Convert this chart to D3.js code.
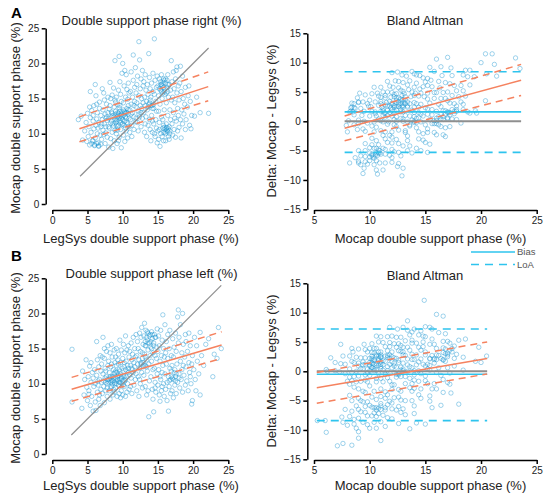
<!DOCTYPE html>
<html lang="en">
<head>
<meta charset="UTF-8">
<title>Double support phase: LegSys vs Mocap</title>
<style>
  body { margin: 0; background: #fff; font-family: "Liberation Sans", Arial, sans-serif; }
  .axis path, .axis line { stroke: #000; stroke-width: 1.5; }
  .axis text { font-size: 10px; fill: #222; font-family: "Liberation Sans", Arial, sans-serif; }
  .title, .label { font-size: 13px; fill: #222; }
  .panel-tag { font-size: 15px; font-weight: bold; fill: #000; }
  .dot { fill: none; stroke: #1592d0; stroke-opacity: 0.45; stroke-width: 0.9; }
  .legend text { font-size: 9.5px; fill: #555; }
</style>
<script src="https://d3js.org/d3.v7.min.js"></script>
</head>
<body>
<svg id="chart" width="550" height="501"></svg>
<script>
// [legsys, mocap] pairs, right foot (panel A)
const rightPairs = [
  [3.7,12.0],[4.1,12.5],[4.3,9.1],[4.6,10.4],[4.8,11.6],[4.9,8.9],[5.0,12.9],[5.4,16.0],
  [5.1,9.6],[5.2,11.0],[5.3,8.4],[5.4,12.3],[5.5,10.2],[5.6,13.3],[5.7,9.0],[5.8,11.8],[5.9,14.0],[5.6,8.6],[5.9,10.7],[5.3,13.8],[5.8,12.6],
  [6.0,8.3],[6.1,17.0],[6.1,9.4],[6.2,11.2],[6.3,12.1],[6.4,10.0],[6.4,13.0],[6.5,8.7],[6.6,11.6],[6.7,14.5],[8.9,20.4],[6.8,9.8],[6.9,12.6],[6.2,15.4],[6.5,10.8],[6.7,13.6],[6.9,11.0],[6.3,14.2],[6.6,8.2],
  [7.0,9.2],[7.1,12.0],[7.2,10.5],[7.2,13.4],[7.3,15.8],[7.4,11.4],[7.5,8.6],[7.5,12.8],[7.6,10.1],[7.7,14.2],[7.8,11.9],[7.8,9.5],[7.9,13.0],[7.1,16.4],[7.4,14.8],[7.6,11.0],[7.9,15.2],[7.3,9.9],[7.7,12.4],[7.0,11.4],
  [8.0,8.1],[8.0,12.2],[8.1,10.8],[8.2,14.0],[8.3,11.5],[8.3,9.3],[8.4,13.1],[8.5,15.5],[8.5,10.2],[8.6,12.6],[8.7,11.1],[8.7,16.5],[8.8,13.8],[8.8,9.0],[8.9,12.0],[8.9,14.8],[8.2,17.3],[8.4,11.8],[8.6,7.9],[8.1,13.5],[8.9,10.5],[8.5,12.9],[8.3,15.0],
  [9.0,11.6],[9.0,13.2],[9.1,10.0],[9.1,15.2],[9.2,12.4],[9.2,8.6],[9.3,14.1],[9.3,11.0],[9.4,16.2],[9.4,12.9],[9.5,21.0],[9.5,9.5],[9.5,13.7],[9.6,11.9],[9.6,17.4],[9.7,10.6],[9.7,12.6],[9.8,14.6],[9.8,8.0],[9.9,11.3],[9.9,13.1],[9.9,18.6],[9.1,12.0],[9.3,12.6],[9.6,14.0],[9.2,10.5],[9.8,12.2],[9.4,9.0],[9.7,15.6],[9.0,14.5],
  [10.0,20.0],[10.0,12.0],[10.1,9.8],[10.1,14.4],[10.2,11.2],[10.2,16.8],[10.3,13.0],[10.3,8.9],[10.4,12.4],[10.4,15.2],[10.5,10.4],[10.5,18.4],[10.6,13.6],[10.6,11.6],[10.7,14.9],[10.7,9.4],[10.8,12.8],[10.8,17.2],[10.9,11.0],[10.9,15.8],[10.1,13.4],[10.4,10.8],[10.6,16.3],[10.8,14.0],[10.3,19.0],[10.9,12.2],
  [11.0,13.4],[11.0,10.2],[11.1,16.0],[11.1,12.0],[11.2,18.8],[11.2,14.2],[11.3,11.2],[11.3,9.6],[11.4,15.2],[11.4,13.0],[11.5,21.2],[11.5,17.6],[11.6,12.4],[11.6,10.6],[11.7,14.6],[11.7,16.6],[11.8,11.7],[11.8,19.4],[11.9,13.8],[11.9,15.8],[11.2,12.8],[11.6,14.0],[11.9,12.2],
  [12.0,14.4],[12.0,17.0],[12.1,11.6],[12.1,18.2],[12.2,13.2],[12.2,10.4],[12.3,23.1],[12.3,15.4],[12.4,12.4],[12.4,20.5],[12.5,16.4],[12.5,14.0],[12.6,11.0],[12.6,17.8],[12.7,13.6],[12.7,15.0],[12.8,12.2],[12.8,19.0],[12.9,14.4],[12.9,16.8],[12.3,12.8],[12.6,13.0],
  [13.0,13.0],[13.0,17.4],[13.1,15.2],[13.1,10.2],[13.2,14.0],[13.2,18.4],[13.3,12.4],[13.3,16.2],[13.4,9.6],[13.4,14.6],[13.5,13.4],[13.5,17.0],[13.6,11.2],[13.6,15.6],[13.7,21.4],[13.7,14.2],[13.8,12.0],[13.8,18.0],[13.9,16.4],[13.9,10.6],[13.2,11.4],[13.6,13.8],[13.9,14.8],
  [14.0,15.2],[14.0,9.0],[14.1,17.2],[14.1,12.6],[14.2,14.0],[14.2,10.2],[14.3,16.0],[14.3,18.6],[14.4,11.4],[14.4,13.6],[14.5,23.5],[14.5,15.6],[14.6,9.6],[14.6,17.6],[14.7,12.0],[14.7,14.6],[14.8,10.8],[14.8,16.6],[14.9,8.7],[14.9,18.2],[14.2,11.8],[14.5,10.0],[14.8,13.2],
  [15.0,16.8],[15.0,10.4],[15.1,15.4],[15.1,9.2],[15.2,17.8],[15.2,11.6],[15.3,14.2],[15.3,8.2],[15.4,16.2],[15.4,10.0],[15.5,18.4],[15.5,12.4],[15.6,15.0],[15.6,9.6],[15.7,17.2],[15.7,10.8],[15.8,16.6],[15.8,11.2],[15.9,13.4],[15.9,17.6],[15.2,10.6],[15.5,16.0],[15.8,9.0],[15.4,17.0],[15.7,12.0],[15.1,13.2],
  [16.0,10.2],[16.0,15.6],[16.1,17.8],[16.1,9.0],[16.2,11.4],[16.2,14.4],[16.3,16.6],[16.3,10.5],[16.4,12.6],[16.4,18.4],[16.5,9.6],[16.5,15.2],[16.6,11.0],[16.6,17.0],[16.7,13.4],[16.7,10.4],[16.8,16.2],[16.8,12.0],[16.9,20.4],[16.9,14.8],[16.2,10.8],[16.6,9.2],[16.4,16.0],
  [17.0,11.4],[17.0,17.4],[17.1,15.2],[17.1,9.8],[17.2,13.0],[17.2,18.8],[17.3,10.6],[17.3,16.4],[17.4,12.2],[17.4,14.4],[17.5,17.8],[17.5,9.5],[17.6,11.8],[17.7,15.8],[17.7,19.5],[17.8,10.4],[17.8,13.6],[17.9,16.8],[17.9,12.6],[17.6,19.0],
  [18.0,14.8],[18.0,10.9],[18.1,17.2],[18.2,12.0],[18.3,16.0],[18.3,9.4],[18.4,13.4],[18.5,18.2],[18.5,11.4],[18.6,15.0],[18.7,12.8],[18.8,14.2],[18.9,10.6],[18.9,16.6],[18.2,19.6],
  [19.0,12.0],[19.2,13.8],[19.3,15.4],[19.5,11.2],[19.6,14.6],[19.7,10.7],[19.8,12.6],[20.2,12.5],[20.5,15.2],[21.0,13.0],[22.2,12.9],[19.4,16.8]
];
// extra samples where the right-foot cloud is densest
const rightCore = [
  [8.6,11.4],[8.8,12.4],[9.0,12.8],[9.2,11.8],[9.3,13.0],[9.4,11.2],[9.5,12.2],[9.6,13.2],[9.7,11.6],[9.8,12.8],[9.9,12.4],[10.0,11.4],
  [10.1,12.6],[10.2,13.2],[10.3,11.8],[10.4,12.9],[10.5,12.2],[10.6,13.0],[10.7,11.4],[8.4,12.4],[8.0,11.0],[7.6,12.2],[9.1,11.2],[10.8,13.4],
  [15.2,16.4],[15.4,17.4],[15.6,16.8],[15.7,15.8],[15.8,17.8],[16.0,16.4],[16.1,17.2],[16.2,15.8],[16.3,17.6],[15.5,17.0],[15.9,16.0],[16.4,17.0],
  [15.8,10.2],[16.0,10.6],[16.1,10.0],[16.3,10.9],[16.4,10.3],[16.5,10.7],[16.7,10.0],[15.9,10.9],
  [6.0,8.4],[6.3,8.6],[6.6,8.3],[5.8,9.0],[6.9,8.5],
  [14.0,14.0],[14.2,13.6],[13.8,14.4],[14.4,14.2]
];

// [legsys, mocap] pairs, left foot (panel B)
const leftPairs = [
  [2.8,14.9],[2.8,7.4],[4.2,6.5],[4.5,8.4],[4.6,10.6],[4.9,9.5],[4.8,13.4],[4.3,11.8],
  [5.0,7.6],[5.1,11.0],[5.2,9.0],[5.3,12.5],[5.4,6.9],[5.5,10.2],[5.6,8.2],[5.7,11.6],[5.8,6.1],[5.9,9.6],[5.5,13.0],[5.8,10.8],[5.2,8.5],
  [6.0,12.0],[6.1,7.4],[6.1,10.0],[6.2,6.2],[6.3,11.2],[6.4,8.8],[6.4,13.4],[6.5,9.8],[6.6,12.4],[6.6,7.8],[6.7,10.6],[6.8,6.9],[6.8,14.0],[6.9,9.2],[6.9,11.8],[6.3,16.0],[6.5,10.4],[6.7,8.4],
  [7.0,10.2],[7.0,12.8],[7.1,8.6],[7.2,11.4],[7.2,16.6],[7.3,9.6],[7.4,13.6],[7.4,7.3],[7.5,10.8],[7.5,12.2],[7.6,9.0],[7.7,11.0],[7.7,14.6],[7.8,10.0],[7.8,8.2],[7.9,12.6],[7.9,15.4],[7.3,10.4],[7.6,11.8],[7.1,13.8],[7.8,9.4],[7.4,15.0],
  [8.0,10.6],[8.0,13.2],[8.1,9.0],[8.1,11.6],[8.2,14.4],[8.2,7.8],[8.3,10.2],[8.3,12.4],[8.4,9.6],[8.4,15.6],[8.5,11.0],[8.5,13.8],[8.6,8.4],[8.6,10.4],[8.7,12.0],[8.7,9.2],[8.8,14.8],[8.8,11.4],[8.9,10.0],[8.9,13.0],[8.2,11.0],[8.5,10.0],[8.7,10.8],[8.4,12.8],[8.8,8.8],
  [9.0,11.8],[9.0,9.4],[9.1,12.6],[9.1,15.0],[9.2,10.4],[9.2,8.2],[9.3,13.4],[9.3,11.0],[9.4,9.8],[9.4,14.2],[9.5,12.0],[9.5,8.6],[9.6,10.6],[9.6,16.2],[9.7,13.0],[9.7,11.4],[9.8,9.0],[9.8,14.8],[9.9,12.2],[9.9,10.0],[9.2,11.6],[9.5,10.2],[9.7,8.0],[9.4,12.8],[9.0,13.8],[9.8,11.0],
  [10.0,13.6],[10.0,8.4],[10.1,11.2],[10.1,15.6],[10.2,12.4],[10.2,9.6],[10.3,14.4],[10.3,10.4],[10.4,12.0],[10.4,16.8],[10.5,11.0],[10.5,13.2],[10.6,8.8],[10.6,14.8],[10.7,12.6],[10.7,10.0],[10.8,15.4],[10.8,11.6],[10.9,13.8],[10.9,9.2],[10.2,13.0],[10.6,11.8],[10.4,8.2],[10.8,12.2],
  [11.0,11.2],[11.0,14.6],[11.1,12.6],[11.1,9.6],[11.2,15.8],[11.2,10.8],[11.3,13.4],[11.3,8.6],[11.4,12.0],[11.4,14.2],[11.5,11.6],[11.5,16.6],[11.6,13.0],[11.6,9.8],[11.7,12.4],[11.7,15.0],[11.8,10.6],[11.8,13.8],[11.9,11.4],[11.9,17.0],[11.3,12.2],
  [12.0,14.0],[12.0,9.0],[12.1,12.8],[12.1,16.0],[12.2,11.0],[12.2,15.0],[12.3,13.4],[12.3,8.2],[12.4,17.2],[12.4,12.2],[12.5,14.6],[12.5,10.0],[12.6,16.6],[12.6,13.0],[12.7,11.6],[12.7,18.0],[12.8,14.4],[12.8,9.4],[12.9,15.6],[12.9,12.4],[12.4,10.6],
  [13.0,16.8],[13.0,11.2],[13.1,14.2],[13.1,18.6],[13.2,12.6],[13.2,9.6],[13.3,15.4],[13.3,17.6],[13.4,13.4],[13.4,8.4],[13.5,16.2],[13.5,11.8],[13.6,14.8],[13.6,17.2],[13.7,5.3],[13.7,12.8],[13.8,15.8],[13.8,10.4],[13.9,14.0],[13.9,17.0],[13.2,16.0],[13.6,9.0],
  [14.0,15.2],[14.0,11.0],[14.1,17.4],[14.1,13.2],[14.2,9.2],[14.2,16.4],[14.3,14.4],[14.3,7.8],[14.4,6.0],[14.4,15.8],[14.5,12.2],[14.5,17.0],[14.6,10.2],[14.6,14.0],[14.7,16.6],[14.7,8.8],[14.8,13.6],[14.8,15.2],[14.9,11.4],[14.9,17.8],[14.3,12.0],[14.6,9.4],
  [15.0,14.6],[15.0,9.8],[15.1,16.8],[15.1,12.0],[15.2,8.4],[15.2,15.4],[15.3,7.5],[15.3,13.2],[15.4,17.6],[15.4,10.6],[15.5,14.0],[15.5,9.0],[15.6,16.2],[15.6,11.6],[15.7,19.8],[15.7,12.6],[15.8,10.0],[15.8,15.0],[15.9,8.2],[15.9,13.8],[15.3,11.0],[15.6,9.6],
  [16.0,18.4],[16.0,11.4],[16.1,9.2],[16.1,14.4],[16.2,12.8],[16.2,16.0],[16.3,10.2],[16.3,7.6],[16.4,13.6],[16.4,17.0],[16.5,6.1],[16.5,11.0],[16.6,15.0],[16.6,9.6],[16.7,12.2],[16.7,17.6],[16.8,10.6],[16.8,8.6],[16.9,14.0],[16.9,11.8],
  [17.0,12.6],[17.0,9.0],[17.1,16.4],[17.1,10.8],[17.2,13.8],[17.2,8.0],[17.3,11.6],[17.3,15.2],[17.4,12.0],[17.4,9.8],[17.5,17.2],[17.5,11.0],[17.6,14.6],[17.6,8.6],[17.7,12.8],[17.8,19.5],[17.8,10.2],[17.9,20.5],[17.9,15.8],[17.5,10.4],
  [18.0,11.4],[18.0,16.6],[18.1,9.4],[18.2,13.2],[18.2,18.4],[18.3,10.6],[18.4,14.4],[18.4,12.0],[18.5,20.0],[18.5,8.8],[18.6,15.6],[18.7,11.2],[18.8,13.8],[18.9,9.8],[18.9,17.0],[18.6,12.6],
  [19.0,12.4],[19.0,16.0],[19.1,10.4],[19.2,14.6],[19.3,9.0],[19.4,13.0],[19.4,17.2],[19.5,11.6],[19.6,15.4],[19.7,10.0],[19.8,7.1],[19.8,12.8],[19.9,14.0],[19.9,7.6],[19.6,11.0],
  [20.1,12.0],[20.2,16.6],[20.3,10.6],[20.5,15.4],[20.6,13.2],[20.8,11.4],[21.0,17.3],[21.2,14.0],[21.5,12.6],[21.8,15.6],[22.2,16.4],[22.8,11.0],[23.0,14.2],[23.4,13.6],[23.6,18.0],[24.0,15.0],[20.4,9.0],[21.0,8.4]
];
// extra samples where the left-foot cloud is densest
const leftCore = [
  [8.0,10.2],[8.2,10.8],[8.4,10.4],[8.6,11.0],[8.8,10.2],[9.0,10.8],[9.1,10.0],[9.3,10.6],[9.4,11.2],[9.6,10.2],
  [9.8,10.8],[10.0,10.4],[10.2,11.0],[10.4,10.6],[7.8,10.6],[7.6,10.2],[8.9,11.6],[9.6,11.8],[10.1,9.8],[8.3,9.4],
  [13.2,15.4],[13.4,16.6],[13.6,15.8],[13.8,16.8],[14.0,16.0],[14.2,17.0],[14.4,15.4],[14.6,16.6],[13.5,17.4],[14.1,15.0],
  [12.6,12.8],[12.8,13.6],[13.0,12.6],[13.2,13.8],[12.9,13.0],[13.4,12.4],
  [16.6,10.4],[16.9,11.0],[17.2,10.6],[17.6,11.4],[18.0,10.8]
];

// regression fits and limits: values at the two ends
const fitRightX = [3.85, 22.15], fitRightMid = [10.7, 16.7], fitRightHi = [12.4, 18.8], fitRightLo = [8.85, 14.7];
const identRight = [3.95, 22.2];
const fitLeftX = [2.75, 24.05], fitLeftMid = [9.2, 15.5], fitLeftHi = [10.9, 17.4], fitLeftLo = [7.5, 13.6];
const identLeft = [2.7, 24.0];

const baRightX = [7.75, 23.6], baRightLoaX = [7.75, 24.0];
const baRightBias = 1.6, baRightLoa = [8.45, -5.3];
const baRightMid = [-1.2, 7.0], baRightHi = [0.9, 9.7], baRightLo = [-3.3, 4.4];
const baLeftX = [5.25, 20.55], baLeftLoaX = [5.25, 20.55];
const baLeftBias = -0.5, baLeftLoa = [7.2, -8.4];
const baLeftMid = [-2.8, 2.2], baLeftHi = [-0.2, 5.0], baLeftLo = [-5.45, -0.45];

const scatterTicks = [0, 5, 10, 15, 20, 25];
const baXTicks = [5, 10, 15, 20, 25];
const baYTicks = [-15, -10, -5, 0, 5, 10, 15];

const orange = "#f5825f", cyan = "#2ec4ee", grey = "#8f8f8f";

const svg = d3.select("#chart");

// scales (bottom panels reuse them inside a shifted group)
const xS = d3.scaleLinear().domain([0, 25]).range([52.3, 228.3]);
const yS = d3.scaleLinear().domain([0, 25]).range([204, 28.3]);
const xB = d3.scaleLinear().domain([5, 25]).range([314, 536.7]);
const yB = d3.scaleLinear().domain([-15, 15]).range([209.3, 33.3]);

function seg(g, x, y, xs, ys, color, width, dash) {
  g.append("line")
    .attr("x1", x(xs[0])).attr("x2", x(xs[1]))
    .attr("y1", y(ys[0])).attr("y2", y(ys[1]))
    .attr("stroke", color).attr("stroke-width", width)
    .attr("stroke-dasharray", dash || null);
}

function scatterPanel(g, pairs, fx, mid, hi, lo, ident, o) {
  g.append("g").attr("class", "axis")
    .attr("transform", "translate(45.7,0)")
    .call(d3.axisLeft(yS).tickValues(scatterTicks).tickSize(4).tickSizeOuter(0).tickPadding(2.5));
  g.append("g").attr("class", "axis")
    .attr("transform", "translate(0,210)")
    .call(d3.axisBottom(xS).tickValues(scatterTicks).tickSize(4).tickSizeOuter(0).tickPadding(2.5));

  g.append("g").selectAll("circle")
    .data(pairs).enter().append("circle")
    .attr("class", "dot")
    .attr("cx", d => xS(d[0])).attr("cy", d => yS(d[1])).attr("r", 2.2);

  seg(g, xS, yS, ident, ident, grey, 1.2);
  seg(g, xS, yS, fx, hi, orange, 1.5, "7,5");
  seg(g, xS, yS, fx, lo, orange, 1.5, "7,5");
  seg(g, xS, yS, fx, mid, orange, 1.5);

  g.append("text").attr("class", "title").attr("text-anchor", "middle")
    .attr("x", 151.5).attr("y", o.titleY).text(o.title);
  g.append("text").attr("class", "label").attr("text-anchor", "middle")
    .attr("x", 141).attr("y", o.xLabelY).text("LegSys double support phase (%)");
  g.append("text").attr("class", "label").attr("text-anchor", "middle")
    .attr("transform", `translate(19.5,${o.yLabelC}) rotate(-90)`)
    .text("Mocap double support phase (%)");
  g.append("text").attr("class", "panel-tag")
    .attr("x", 11).attr("y", o.tagY).text(o.tag);
}

function baPanel(g, pairs, fx, loaX, bias, loa, mid, hi, lo, o) {
  g.append("g").attr("class", "axis")
    .attr("transform", "translate(307.3,0)")
    .call(d3.axisLeft(yB).tickValues(baYTicks).tickSize(4).tickSizeOuter(0).tickPadding(2.5));
  g.append("g").attr("class", "axis")
    .attr("transform", "translate(0,210)")
    .call(d3.axisBottom(xB).tickValues(baXTicks).tickSize(4).tickSizeOuter(0).tickPadding(2.5));

  // Bland Altman: x is the mocap value, delta = mocap - legsys
  g.append("g").selectAll("circle")
    .data(pairs).enter().append("circle")
    .attr("class", "dot")
    .attr("cx", d => xB(d[1])).attr("cy", d => yB(d[1] - d[0])).attr("r", 2.2);

  seg(g, xB, yB, fx, [0, 0], grey, 2);
  seg(g, xB, yB, fx, [bias, bias], cyan, 1.6);
  seg(g, xB, yB, loaX, [loa[0], loa[0]], cyan, 1.6, "8,6");
  seg(g, xB, yB, loaX, [loa[1], loa[1]], cyan, 1.6, "8,6");
  seg(g, xB, yB, fx, hi, orange, 1.5, "7,5");
  seg(g, xB, yB, fx, lo, orange, 1.5, "7,5");
  seg(g, xB, yB, fx, mid, orange, 1.5);

  g.append("text").attr("class", "title").attr("text-anchor", "middle")
    .attr("x", 425).attr("y", o.titleY).text("Bland Altman");
  g.append("text").attr("class", "label").attr("text-anchor", "middle")
    .attr("x", 430.5).attr("y", o.xLabelY).text("Mocap double support phase (%)");
  g.append("text").attr("class", "label").attr("text-anchor", "middle")
    .attr("transform", `translate(276,${o.yLabelC}) rotate(-90)`)
    .text("Delta: Mocap - Legsys (%)");
}

const rightAll = rightPairs.concat(rightCore);
const leftAll = leftPairs.concat(leftCore);

const topRow = svg.append("g");
const bottomRow = svg.append("g").attr("transform", "translate(0,250)");

scatterPanel(topRow, rightAll, fitRightX, fitRightMid, fitRightHi, fitRightLo, identRight,
  { title: "Double support phase right (%)", titleY: 24.5, xLabelY: 243, yLabelC: 118, tag: "A", tagY: 18 });
baPanel(topRow, rightAll, baRightX, baRightLoaX, baRightBias, baRightLoa, baRightMid, baRightHi, baRightLo,
  { titleY: 24.5, xLabelY: 243, yLabelC: 121 });

scatterPanel(bottomRow, leftAll, fitLeftX, fitLeftMid, fitLeftHi, fitLeftLo, identLeft,
  { title: "Double support phase left (%)", titleY: 28.3, xLabelY: 239.5, yLabelC: 118, tag: "B", tagY: 10.5 });
baPanel(bottomRow, leftAll, baLeftX, baLeftLoaX, baLeftBias, baLeftLoa, baLeftMid, baLeftHi, baLeftLo,
  { titleY: 29.5, xLabelY: 239.5, yLabelC: 121 });

// legend
const legendRows = [{ name: "Bias", dash: null, y: 252 }, { name: "LoA", dash: "8,6", y: 264.5 }];
const legend = svg.append("g").attr("class", "legend");
legendRows.forEach(r => {
  legend.append("line").attr("x1", 471).attr("x2", 515).attr("y1", r.y).attr("y2", r.y)
    .attr("stroke", cyan).attr("stroke-width", 1.6).attr("stroke-dasharray", r.dash);
  legend.append("text").attr("x", 517).attr("y", r.y + 3).text(r.name);
});
</script>
</body>
</html>
